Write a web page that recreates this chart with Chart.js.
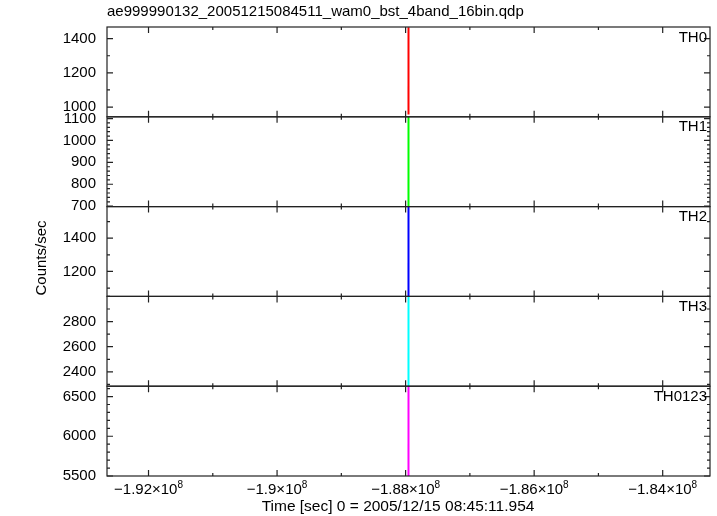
<!DOCTYPE html>
<html>
<head>
<meta charset="utf-8">
<script src="https://cdn.jsdelivr.net/npm/chart.js@4.4.0/dist/chart.umd.min.js"></script>
<style>
html, body { margin: 0; padding: 0; background: #fff; }
#caja { position: relative; width: 717px; height: 516px; }
</style>
</head>
<body>
<div id="caja"><canvas id="curva"></canvas></div>
<script>
// datos de la curva de luz (tiempo en s, cuentas/s por banda)
const tiempos = [-187955400, -187955200, -187955000, -187954800];
const bandas = ['TH0', 'TH1', 'TH2', 'TH3', 'TH0123'];
const th0 = [1120, 1466, 1250, 956];
const th1 = [820, 1110, 940, 698];
const th2 = [1250, 1592, 1380, 1050];
const th3 = [2550, 3002, 2700, 2286];
const th0123 = [5900, 6632, 6200, 5498];
const colores = ['#ff0000', '#00ff00', '#0000ff', '#00ffff', '#ff00ff'];

// rangos y marcas de los ejes
const yMin = [943, 698, 1050, 2286, 5500];
const yMax = [1468, 1108, 1590, 3000, 6630];
const yMarcas = [
    [1000, 1200, 1400],
    [700, 800, 900, 1000, 1100],
    [1200, 1400],
    [2400, 2600, 2800],
    [5500, 6000, 6500]
];
const yMenor = [100, 20, 100, 100, 100];
const xMin = -192646000, xMax = -183264000;
const xMarcas = [-192000000, -190000000, -188000000, -186000000, -184000000];
const xMenor = 1000000;

const titulo = 'ae999990132_20051215084511_wam0_bst_4band_16bin.qdp';
const tituloX = 'Time [sec] 0 = 2005/12/15 08:45:11.954';
const tituloY = 'Counts/sec';

const fuente = '"Liberation Sans", Arial, Helvetica, sans-serif';
Chart.defaults.font.family = fuente;
Chart.defaults.font.size = 15;
Chart.defaults.color = '#000';

const series = [th0, th1, th2, th3, th0123];

const datasets = series.map(function (valores, i) {
    return {
        label: bandas[i],
        data: tiempos.map(function (t, k) { return { x: t, y: valores[k] }; }),
        borderColor: colores[i],
        borderWidth: 2,
        pointRadius: 0,
        yAxisID: 'y' + i
    };
});

const escalas = {
    x: {
        type: 'linear',
        min: xMin,
        max: xMax,
        grid: { display: false, drawTicks: false },
        border: { display: false },
        ticks: { display: false },
        afterBuildTicks: function (s) { s.ticks = xMarcas.map(function (v) { return { value: v }; }); },
        afterFit: function (s) { s.height = 40; }
    }
};
// el orden importa: el ultimo eje queda arriba
for (let i = 4; i >= 0; i--) {
    escalas['y' + i] = {
        type: 'linear',
        position: 'left',
        stack: 'paneles',
        stackWeight: 1,
        min: yMin[i],
        max: yMax[i],
        grid: { display: false, drawTicks: false },
        border: { display: false },
        ticks: { padding: 11, autoSkip: false, callback: function (v) { return String(v); } },
        afterBuildTicks: function (s) { s.ticks = yMarcas[i].map(function (v) { return { value: v }; }); },
        afterFit: function (s) { s.width = 107; }
    };
}

// marco, marcas de los ejes y textos al estilo qdp
const marcos = {
    id: 'marcos',
    afterDraw: function (chart) {
        const ctx = chart.ctx;
        const area = chart.chartArea;
        const sx = chart.scales.x;
        ctx.save();
        ctx.strokeStyle = '#222';
        ctx.lineWidth = 1.2;
        for (let i = 0; i < 5; i++) {
            const sy = chart.scales['y' + i];
            ctx.strokeRect(area.left, sy.top, area.right - area.left, sy.bottom - sy.top);
            ctx.beginPath();
            // marcas en x arriba y abajo de cada panel
            for (let v = Math.ceil(xMin / xMenor) * xMenor; v <= xMax; v += xMenor) {
                const px = sx.getPixelForValue(v);
                const largo = xMarcas.includes(v) ? 6 : 3;
                ctx.moveTo(px, sy.top); ctx.lineTo(px, sy.top + largo);
                ctx.moveTo(px, sy.bottom); ctx.lineTo(px, sy.bottom - largo);
            }
            // marcas en y a izquierda y derecha
            for (let v = Math.ceil(yMin[i] / yMenor[i]) * yMenor[i]; v <= yMax[i]; v += yMenor[i]) {
                const py = sy.getPixelForValue(v);
                const largo = yMarcas[i].includes(v) ? 6 : 3;
                ctx.moveTo(area.left, py); ctx.lineTo(area.left + largo, py);
                ctx.moveTo(area.right, py); ctx.lineTo(area.right - largo, py);
            }
            ctx.stroke();
            ctx.fillStyle = '#000';
            ctx.font = '15px ' + fuente;
            ctx.textAlign = 'right';
            ctx.textBaseline = 'top';
            ctx.fillText(bandas[i], area.right - 3, sy.top + 3);
        }
        // etiquetas del eje x con exponente
        ctx.textBaseline = 'alphabetic';
        ctx.textAlign = 'left';
        sx.ticks.forEach(function (t) {
            const base = '\u2212' + Math.abs(parseFloat((t.value / 1e8).toFixed(4))) + '\u00d710';
            ctx.font = '15px ' + fuente;
            const w1 = ctx.measureText(base).width;
            ctx.font = '10px ' + fuente;
            const w2 = ctx.measureText('8').width;
            const x0 = sx.getPixelForValue(t.value) - (w1 + w2) / 2;
            ctx.font = '15px ' + fuente;
            ctx.fillText(base, x0, 494);
            ctx.font = '10px ' + fuente;
            ctx.fillText('8', x0 + w1, 488);
        });
        ctx.textBaseline = 'middle';
        ctx.textAlign = 'center';
        ctx.font = '15.5px ' + fuente;
        ctx.fillText(tituloX, 398, 507);
        ctx.textAlign = 'left';
        ctx.font = '15px ' + fuente;
        ctx.fillText(titulo, area.left, 12);
        ctx.translate(42, 258);
        ctx.rotate(-Math.PI / 2);
        ctx.textAlign = 'center';
        ctx.fillText(tituloY, 0, 0);
        ctx.restore();
    }
};

new Chart(document.getElementById('curva'), {
    type: 'line',
    data: { datasets: datasets },
    options: {
        responsive: true,
        maintainAspectRatio: false,
        animation: false,
        layout: { padding: { top: 27, right: 7, bottom: 0, left: 0 } },
        plugins: { legend: { display: false }, tooltip: { enabled: false } },
        scales: escalas
    },
    plugins: [marcos]
});
</script>
</body>
</html>
